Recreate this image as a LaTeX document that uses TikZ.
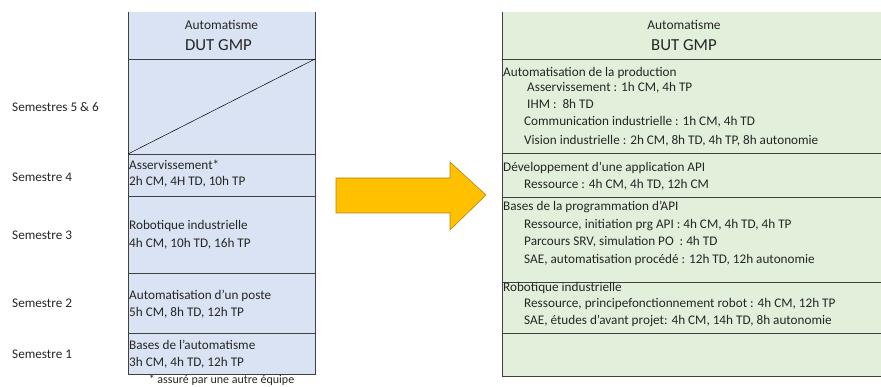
\documentclass[tikz,border=0pt]{standalone}
\usepackage{fontspec}
\setmainfont{Carlito}
\definecolor{lblue}{HTML}{DAE3F3}
\definecolor{lgreen}{HTML}{E2EFDA}
\definecolor{gridc}{HTML}{404040}
\definecolor{arrowf}{HTML}{FFC000}
\definecolor{arrowd}{HTML}{B8860B}
\definecolor{txt}{HTML}{262626}
\tikzset{
  cell/.style={text=txt, anchor=west, inner sep=0pt, font=\fontsize{13.2}{15}\selectfont},
  num/.style={cell},
  side/.style={text=txt, anchor=west, inner sep=0pt, font=\fontsize{13.2}{15}\selectfont},
  hd/.style={text=txt, anchor=center, inner sep=0pt, font=\fontsize{13.4}{15}\selectfont},
  hdbig/.style={text=txt, anchor=center, inner sep=0pt, font=\fontsize{16.8}{19}\selectfont},
  footn/.style={text=txt, anchor=center, inner sep=0pt, font=\fontsize{12}{13}\selectfont},
  gline/.style={draw=gridc, line width=0.9pt},
}
\begin{document}
\begin{tikzpicture}[x=1pt,y=-1pt]
\useasboundingbox (0,0) rectangle (881,387);
% left table
\fill[lblue] (128,12) rectangle (315,374);
\draw[gline] (128,12) -- (128,374) -- (315,374) -- (315,12);
\foreach \yy in {59,154,196,273,333} \draw[gline] (128,\yy) -- (315,\yy);
\draw[draw=black, line width=0.5pt] (128,154) -- (315,59);
\node[hd] (lh1) at (221.5,25) {Automatisme};
\node[hdbig] (lh2) at (218.5,45) {DUT GMP};
\node[cell] (l4a) at (129,165) {Asservissement*};
\node[num] (l4b) at (129,182) {2h CM, 4H TD, 10h TP};
\node[cell] (l3a) at (129,226) {Robotique industrielle};
\node[num] (l3b) at (129,244) {4h CM, 10h TD, 16h TP};
\node[cell] (l2a) at (129,296) {Automatisation d'un poste};
\node[num] (l2b) at (129,313) {5h CM, 8h TD, 12h TP};
\node[cell] (l1a) at (129,345) {Bases de l'automatisme};
\node[num] (l1b) at (129,363) {3h CM, 4h TD, 12h TP};
\node[footn] (foot) at (221.5,380.5) {* assuré par une autre équipe};
% side labels
\node[side] (s56) at (12,107) {Semestres 5 \& 6};
\node[side] (s4) at (12,177) {Semestre 4};
\node[side] (s3) at (12,235) {Semestre 3};
\node[side] (s2) at (12,303) {Semestre 2};
\node[side] (s1) at (12,354) {Semestre 1};
% arrow
\filldraw[fill=arrowf, draw=arrowd, line width=0.6pt]
  (336,178) -- (450,178) -- (450,162) -- (486,195) -- (450,230) -- (450,213) -- (336,213) -- cycle;
% right table
\fill[lgreen] (502,12) rectangle (881,376);
\draw[gline] (502,12) -- (502,376) -- (881,376);
\foreach \yy in {59,153,197,282,333} \draw[gline] (502,\yy) -- (881,\yy);
\node[hd] (rh1) at (684,25) {Automatisme};
\node[hdbig] (rh2) at (684,45) {BUT GMP};
\node[cell] (r1) at (503,73) {Automatisation de la production};
\node[num] (r1a) at (527,88) {Asservissement : 1h CM, 4h TP};
\node[num] (r1b) at (527,104) {IHM :\ \ 8h TD};
\node[num] (r1c) at (524,122) {Communication industrielle : 1h CM, 4h TD};
\node[num] (r1d) at (524,141) {Vision industrielle : 2h CM, 8h TD, 4h TP, 8h autonomie};
\node[cell] (r2) at (503,168) {Développement d'une application API};
\node[num] (r2a) at (524,185) {Ressource : 4h CM, 4h TD, 12h CM};
\node[cell] (r3) at (503,207) {Bases de la programmation d'API};
\node[num] (r3a) at (524,225) {Ressource, initiation prg API : 4h CM, 4h TD, 4h TP};
\node[num] (r3b) at (524,242) {Parcours SRV, simulation PO\ \ : 4h TD};
\node[num] (r3c) at (524,260) {SAE, automatisation procédé : 12h TD, 12h autonomie};
\node[cell] (r4) at (503,288) {Robotique industrielle};
\node[num] (r4a) at (524,304) {Ressource, principefonctionnement robot : 4h CM, 12h TP};
\node[num] (r4b) at (524,321) {SAE, études d'avant projet: 4h CM, 14h TD, 8h autonomie};
\end{tikzpicture}
\end{document}
